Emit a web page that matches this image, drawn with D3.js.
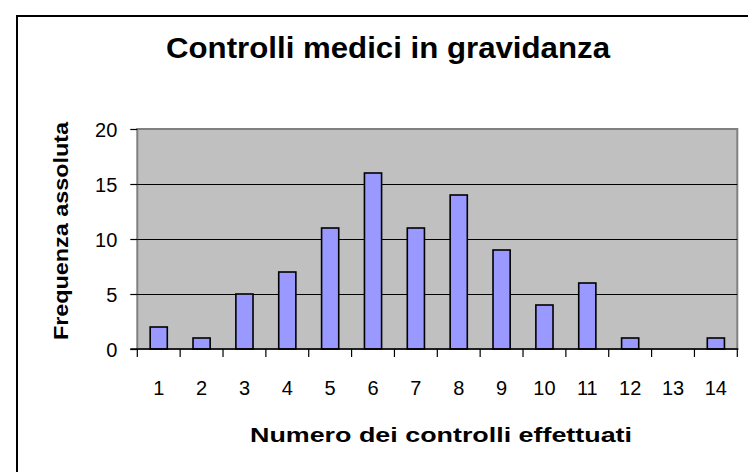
<!DOCTYPE html>
<html>
<head>
<meta charset="utf-8">
<script src="https://cdn.jsdelivr.net/npm/d3@7"></script>
<style>
html,body{margin:0;padding:0;background:#fff;}
svg{display:block;}
text{font-family:"Liberation Sans",Arial,sans-serif;fill:#000;}
</style>
</head>
<body>
<svg id="chart" width="748" height="472"></svg>
<script>
const categories = ["1","2","3","4","5","6","7","8","9","10","11","12","13","14"];
const values = [2,1,5,7,11,16,11,14,9,4,6,1,0,1];
const yTicks = [0,5,10,15,20];
const titleText = "Controlli medici in gravidanza";
const xTitleText = "Numero dei controlli effettuati";
const yTitleText = "Frequenza assoluta";

const svg = d3.select("#chart");
const plot = {left:137.3, right:737.3, top:129, bottom:349};

// outer border (extends beyond visible area on right/bottom)
svg.append("rect").attr("x",17).attr("y",16).attr("width",800).attr("height",500)
  .attr("fill","#fff").attr("stroke","#000").attr("stroke-width",2);

const x = d3.scaleBand().domain(categories).range([plot.left, plot.right]).paddingInner(0.6).paddingOuter(0.3);
const xb = d3.scaleBand().domain(categories).range([plot.left, plot.right]);
const y = d3.scaleLinear().domain([0,20]).range([plot.bottom, plot.top]);

// plot background
svg.append("rect").attr("x",plot.left).attr("y",plot.top)
  .attr("width",plot.right-plot.left).attr("height",plot.bottom-plot.top)
  .attr("fill","#C0C0C0").attr("stroke","#808080").attr("stroke-width",2);

// gridlines
svg.append("g").selectAll("line").data(yTicks.filter(t=>t>0 && t<20)).join("line")
  .attr("x1",plot.left).attr("x2",plot.right)
  .attr("y1",d=>Math.round(y(d))+0.5).attr("y2",d=>Math.round(y(d))+0.5)
  .attr("stroke","#000").attr("stroke-width",1.2);

// bars
const barData = values.map((v,i)=>({c:categories[i],v})).filter(d=>d.v>0);
svg.append("g").selectAll("rect").data(barData).join("rect")
  .attr("x",d=>x(d.c)).attr("width",x.bandwidth())
  .attr("y",d=>y(d.v)).attr("height",d=>y(0)-y(d.v))
  .attr("fill","#9999FF").attr("stroke","#000").attr("stroke-width",1.6);

// y axis
const yAxis = d3.axisLeft(y).tickValues(yTicks).tickSize(7).tickPadding(13);
const gy = svg.append("g").attr("transform",`translate(${plot.left},0)`).call(yAxis);
gy.select(".domain").remove();
gy.selectAll("line").attr("stroke","#000").attr("stroke-width",1.2);
gy.selectAll("text").attr("font-size",20).attr("font-family","Liberation Sans, Arial, sans-serif").attr("dy","0.36em");

// x axis
const xAxis = d3.axisBottom(xb).tickSize(0).tickPadding(0);
const gx = svg.append("g").attr("transform",`translate(0,${plot.bottom})`).call(xAxis);
gx.select(".domain").remove();
gx.selectAll("text").attr("font-size",20).attr("font-family","Liberation Sans, Arial, sans-serif")
  .attr("y",46).attr("dy",0);
svg.append("line").attr("x1",plot.left-7).attr("x2",plot.right+1)
  .attr("y1",plot.bottom).attr("y2",plot.bottom).attr("stroke","#000").attr("stroke-width",1.5);
const bounds = categories.map(c=>xb(c)).concat([plot.right]);
svg.append("g").selectAll("line").data(bounds).join("line")
  .attr("x1",d=>d).attr("x2",d=>d).attr("y1",plot.bottom).attr("y2",plot.bottom+8)
  .attr("stroke","#000").attr("stroke-width",1.2);

// titles
svg.append("text").attr("x",388).attr("y",58).attr("text-anchor","middle")
  .attr("font-size",29).attr("font-weight","bold")
  .attr("textLength",444).attr("lengthAdjust","spacingAndGlyphs").text(titleText);
svg.append("text").attr("x",441).attr("y",442).attr("text-anchor","middle")
  .attr("font-size",21).attr("font-weight","bold")
  .attr("textLength",382).attr("lengthAdjust","spacingAndGlyphs").text(xTitleText);
svg.append("text").attr("transform","translate(68,231) rotate(-90)").attr("text-anchor","middle")
  .attr("font-size",21).attr("font-weight","bold")
  .attr("textLength",218).attr("lengthAdjust","spacingAndGlyphs").text(yTitleText);
</script>
</body>
</html>
